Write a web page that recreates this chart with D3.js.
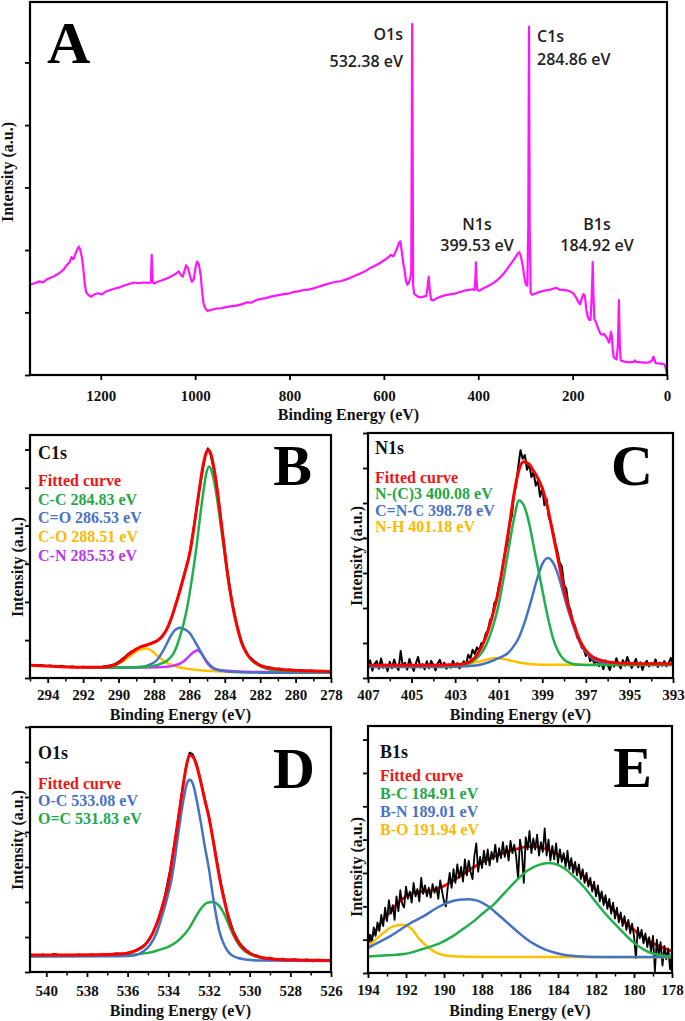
<!DOCTYPE html>
<html><head><meta charset="utf-8">
<script src="https://cdn.jsdelivr.net/npm/d3@7"></script>
<style>body{margin:0;background:#fff}svg{display:block}</style>
</head><body>
<script>
// ---------------- DATA ----------------
// Panel A survey spectrum [binding energy eV, intensity (0-100 of frame)]
const surveyData = [[1350,24.2],[1340,24.6],[1330,25.1],[1322,24.8],[1315,25.6],[1308,26.0],[1300,26.4],[1292,27.0],[1285,27.6],[1278,28.4],[1272,29.5],[1266,30.2],[1262,31.6],[1258,31.0],[1254,32.4],[1250,33.6],[1247,34.4],[1244,33.8],[1240,31.5],[1237,28.5],[1234,24.5],[1231,22.2],[1226,21.4],[1220,21.0],[1214,21.6],[1206,21.9],[1198,21.6],[1190,22.3],[1180,22.8],[1170,23.2],[1160,23.5],[1150,24.0],[1140,24.4],[1130,24.8],[1120,24.6],[1110,24.8],[1100,24.7],[1094,24.8],[1092,32.2],[1090,25.0],[1087,24.5],[1080,25.0],[1070,25.4],[1060,25.9],[1050,26.5],[1040,27.2],[1035,27.8],[1030,26.8],[1026,26.4],[1022,28.2],[1019,29.4],[1015,28.6],[1011,26.6],[1007,25.0],[1003,25.6],[999,29.0],[996,30.4],[992,29.6],[988,26.5],[985,22.0],[982,19.0],[978,17.8],[974,17.2],[965,17.5],[955,17.8],[945,17.9],[935,18.2],[925,18.4],[913,18.6],[900,19.0],[890,19.5],[880,19.4],[870,20.1],[860,20.4],[850,20.6],[840,21.0],[829,21.3],[815,21.6],[800,21.9],[790,22.3],[780,22.5],[770,22.8],[760,22.9],[753,23.1],[740,23.6],[728,24.1],[715,24.6],[700,25.0],[690,25.2],[678,25.7],[665,26.4],[650,27.2],[640,27.8],[630,28.6],[622,29.1],[610,29.9],[600,30.7],[592,31.4],[585,32.2],[580,31.8],[576,32.8],[572,34.0],[568,35.5],[565,35.8],[562,33.0],[559,30.0],[556,28.0],[553,25.0],[550,24.2],[547,24.8],[544,26.0],[542,28.0],[541,60],[540,94.1],[539,60],[538,24],[536,21.8],[533,21.5],[528,21.0],[522,20.8],[516,21.0],[510,21.2],[507,24.0],[505,26.4],[503,23.0],[500,20.2],[495,20.0],[488,20.6],[480,21.0],[470,21.4],[460,21.6],[450,21.8],[440,22.2],[430,22.6],[420,22.8],[412,23.0],[408,22.8],[406,26],[405,30.2],[404,26],[402,22.8],[398,22.6],[390,23.2],[380,23.8],[370,24.5],[360,25.4],[350,26.6],[340,28.2],[330,30.0],[322,31.4],[316,32.6],[313,32.9],[310,32.0],[306,29.5],[302,26.0],[299,24.2],[296,24.0],[294,40],[292.5,93.4],[291,40],[289,22.0],[286,21.5],[280,21.8],[270,22.3],[260,22.6],[250,22.8],[240,23.2],[235,23.4],[228,22.9],[220,22.8],[210,22.6],[204,22.3],[198,21.8],[192,20.6],[187,19.4],[184,19.0],[180,20.8],[177,21.7],[174,21.2],[171,17.5],[168,15.6],[165,14.8],[162,14.8],[160,20],[158,27],[157.5,30.3],[156,22],[154,15.0],[150,14.0],[146,12.5],[142,11.3],[138,10.8],[134,11.0],[130,10.4],[126,9.6],[123,8.7],[121,9.5],[119,11.6],[117,10.6],[115,7.0],[113,4.8],[110,4.4],[107,4.2],[104,8],[102,20.1],[100,8],[98,3.9],[90,3.6],[80,3.4],[70,3.5],[68,3.9],[66,3.5],[55,3.4],[45,3.3],[38,3.4],[32,3.8],[29,4.9],[27,4.4],[24,3.2],[18,3.1],[10,3.0],[5,2.8],[2,1.5],[0,0.5]];
const surveyPeakLabels = [["O1s","532.38 eV"],["C1s","284.86 eV"],["N1s","399.53 eV"],["B1s","184.92 eV"]];
const surveyTicks = [1200,1000,800,600,400,200,0];

// Panel B: C1s
const c1sRaw = [[295,5.6],[294.7,5.0],[294.4,5.4],[294.1,4.9],[293.8,5.1],[293.5,4.6],[293.2,5.0],[292.9,4.5],[292.6,4.7],[292.3,4.3],[292,4.6],[291.7,4.3],[291.4,4.5],[291.1,4.2],[290.8,4.8],[290.5,5.2],[290.2,5.7],[289.9,7.2],[289.6,8.9],[289.3,10.8],[289,11.5],[288.7,13.2],[288.4,13.4],[288.1,14.6],[287.8,15.4],[287.5,17.6],[287.2,21],[286.9,27],[286.6,34.5],[286.3,42.5],[286,50.5],[285.7,64.5],[285.4,79],[285.1,91.5],[284.95,94.5],[284.8,92],[284.5,81.5],[284.2,64.5],[283.9,46.5],[283.6,31.5],[283.3,21.5],[283,13.5],[282.7,9.2],[282.4,7.4],[282.1,5.6],[281.8,4.6],[281.5,4.4],[281.2,3.6],[280.9,3.9],[280.6,3.2],[280.3,3.5],[280,2.9],[279.7,3.3],[279.4,2.7],[279.1,3.1],[278.8,2.6],[278.5,3.0],[278.2,2.6],[278,2.9]];
const c1sFit = [[295,5.2],[293.5,4.7],[292,4.4],[291,4.4],[290.5,4.8],[290.1,5.8],[289.8,7.2],[289.54,9],[289.25,10.6],[288.97,12],[288.7,12.9],[288.41,13.6],[288.12,14.3],[287.84,15.2],[287.55,17],[287.28,20],[287.05,24],[286.8,29.5],[286.53,36],[286.25,43.5],[285.96,52],[285.7,64],[285.45,77],[285.25,86.5],[285.08,92],[284.95,93.8],[284.8,92.5],[284.6,86],[284.4,76],[284.2,64],[284.0,52],[283.8,40.5],[283.55,29.5],[283.3,21],[283.05,14.5],[282.75,10],[282.4,7],[282,5.2],[281.5,4.2],[281,3.6],[280,3.1],[279,2.9],[278,2.7]];
const c1sCC = [[292,4.3],[289,4.4],[288.3,4.8],[287.84,5.3],[287.5,6.2],[287.28,7],[286.9,10],[286.53,17],[286.15,28],[285.85,41],[285.58,55],[285.4,66],[285.2,77],[285.05,84],[284.87,87],[284.7,84],[284.45,74.6],[284.25,64],[284.08,55],[283.9,45.5],[283.7,36],[283.45,26],[283.14,17],[282.85,11.5],[282.57,8],[282.1,5.3],[281.63,3.8],[281,3.1],[280,2.8],[278,2.4]];
const c1sCdO = [[292,4.3],[289.5,4.3],[288.6,4.6],[288.2,5.6],[287.84,7.3],[287.55,10.3],[287.28,14],[287.05,17.3],[286.8,19.8],[286.53,20.7],[286.25,20],[285.96,18.3],[285.7,15.2],[285.4,11.4],[285.15,8.3],[284.92,5.9],[284.65,4.2],[284.45,3.4],[284,2.8],[283,2.4],[281,2.2],[278,2.2]];
const c1sCO = [[292,4.3],[291.5,4.3],[290.9,4.4],[290.48,4.6],[290.1,5.6],[289.8,6.7],[289.54,8],[289.25,9.6],[288.97,11],[288.7,11.8],[288.41,12.1],[288.12,11.2],[287.84,9.3],[287.55,7.6],[287.28,6.2],[286.9,5.1],[286.53,4.3],[286,3.7],[285.4,3.2],[284.5,2.8],[283.5,2.5],[281,2.3],[278,2.2]];
const c1sCN = [[292,4.3],[289,4.3],[287.8,4.4],[287.28,4.6],[286.9,5.1],[286.53,5.9],[286.3,7],[286.05,8.7],[285.8,10.4],[285.55,11.4],[285.33,10.2],[285.11,7.5],[284.9,5.4],[284.64,3.9],[284.3,3.3],[283.5,2.8],[282,2.5],[278,2.4]];
const c1sLegend = ["Fitted curve","C-C 284.83 eV","C=O 286.53 eV","C-O 288.51 eV","C-N 285.53 eV"];
const c1sTicks = [294,292,290,288,286,284,282,280,278];

// Panel C: N1s (raw intensities every 0.1 eV from 407 eV downwards)
const n1sRawStart = 407, n1sRawStep = 0.1;
const n1sRaw = [4.5,7.2,3.0,5.8,6.9,3.8,8.0,4.2,5.5,2.8,6.6,4.0,7.5,5.0,3.2,11.0,4.6,6.2,3.4,7.8,5.1,2.9,6.0,8.6,4.3,5.7,3.5,6.8,4.0,7.0,5.3,3.1,5.9,7.4,4.4,6.3,3.8,5.6,4.2,7.0,5.0,6.1,3.9,5.2,6.8,5.4,9.5,8.0,11.5,9.8,12.5,11.0,14.2,14.5,18.0,19.2,23.5,24.8,30.5,32.0,37.5,41.0,46.8,51.5,55.0,62.5,66.0,74.5,79.0,86.5,93.0,89.5,91.0,85.0,87.5,82.0,84.0,78.5,80.5,74.0,77.5,70.5,73.0,65.5,63.0,59.5,55.0,51.5,47.0,45.5,38.0,36.5,30.0,27.5,22.0,21.5,16.5,16.0,12.5,11.8,9.0,10.2,6.8,8.5,5.2,7.6,4.8,6.9,3.6,7.2,5.4,3.2,6.5,4.7,8.1,5.6,3.9,7.3,5.0,8.6,6.2,4.1,5.9,7.8,4.4,6.4,3.3,5.8,7.0,4.7,6.1,5.2,7.6,4.5,6.3,5.0,6.9,4.8,6.0,8.2,5.5];
const n1sFit = [[407,5.2],[404,5.2],[403,5.4],[402.5,6.0],[402,9.4],[401.6,16.4],[401.3,25],[401,36],[400.75,49],[400.5,63],[400.3,75],[400.07,85],[399.85,88.3],[399.6,87.2],[399.4,84.5],[399.2,81.5],[399,77.5],[398.75,69.4],[398.5,58.4],[398.25,47.4],[398,36.4],[397.75,27.6],[397.5,20.5],[397.25,14.8],[397,11.2],[396.7,8.7],[396.3,7.2],[395.8,6.3],[395,5.9],[393,5.8]];
const n1sNC3 = [[407,5.0],[404,5.0],[403,5.1],[402.5,5.6],[402.2,6.8],[401.9,9],[401.6,13],[401.3,20],[401,30],[400.75,42],[400.5,55],[400.3,65],[400.07,72.5],[399.85,70.5],[399.6,63],[399.4,54],[399.2,45],[399,36],[398.75,25],[398.5,16],[398.25,10.5],[398,7.5],[397.75,6.2],[397.5,5.6],[397,5.3],[393,5.3]];
const n1sCNC = [[407,4.5],[403.5,4.5],[402.5,4.8],[401.8,5.5],[401.3,7],[400.9,8.5],[400.6,10],[400.35,12.5],[400.1,16],[399.8,23],[399.5,32],[399.25,40],[399,46.5],[398.75,49],[398.5,47],[398.25,41.5],[398,33.5],[397.75,26],[397.5,19.5],[397.25,14],[397,10.5],[396.7,8],[396.3,6.5],[395.8,5.9],[393,5.6]];
const n1sNH = [[407,5.0],[404,5.0],[403,5.2],[402.5,5.6],[402,6.5],[401.6,7.4],[401.15,8.2],[400.8,7.8],[400.4,7],[400,6.2],[399.5,5.6],[399,5.4],[397,5.4],[393,5.4]];
const n1sLegend = ["Fitted curve","N-(C)3 400.08 eV","C=N-C 398.78 eV","N-H 401.18 eV"];
const n1sTicks = [407,405,403,401,399,397,395,393];

// Panel D: O1s
const o1sRaw = [[540.8,7.3],[540.5,6.5],[540.2,7.1],[539.9,6.6],[539.6,7.4],[539.3,6.7],[539,7.0],[538.7,6.4],[538.4,7.2],[538.1,6.6],[537.8,7.1],[537.5,6.8],[537.2,7.3],[536.9,6.9],[536.6,7.6],[536.3,7.4],[536,7.9],[535.7,8.4],[535.4,9.8],[535.1,11.5],[534.8,15.2],[534.5,21.2],[534.2,29.8],[533.9,42],[533.6,57.5],[533.3,75],[533.1,85],[532.95,89.5],[532.8,88.8],[532.6,84.8],[532.3,74],[532,63.5],[531.7,49.5],[531.4,35.8],[531.1,24.5],[530.8,16.5],[530.5,11.8],[530.2,9.2],[529.9,7.2],[529.6,6.6],[529.3,5.4],[529,5.8],[528.7,4.9],[528.4,5.4],[528.1,4.6],[527.8,5.2],[527.5,4.5],[527.2,5.1],[526.9,4.4],[526.6,5.0],[526.3,4.6],[526,5.1]];
const o1sFit = [[540.8,6.9],[539,6.9],[537.5,7.0],[536.5,7.3],[536,7.7],[535.6,8.7],[535.2,10.6],[534.9,13.8],[534.6,19],[534.3,26.5],[534,36],[533.75,49],[533.5,63],[533.3,74.5],[533.1,84.5],[532.95,88.5],[532.8,88],[532.6,84],[532.4,77.5],[532.2,70],[532,63],[531.8,54],[531.6,44],[531.4,35],[531.2,27.5],[531,21],[530.8,16],[530.6,12.8],[530.4,10.5],[530.1,8.2],[529.7,6.6],[529.2,5.6],[528.5,5.1],[527,4.8],[526,4.7]];
const o1sOC = [[540.8,6.4],[537,6.4],[536,6.5],[535.65,6.8],[535.2,8.6],[534.9,11],[534.6,15.5],[534.3,23],[534,32],[533.86,37],[533.7,45],[533.5,57],[533.3,68],[533.1,76.5],[532.95,78.5],[532.8,77],[532.6,70],[532.4,61],[532.2,51],[532,42],[531.85,33.5],[531.7,25.5],[531.5,17],[531.3,12],[531.1,8.8],[530.9,7],[530.6,5.8],[530.2,5.1],[529.5,4.7],[526,4.5]];
const o1sOdC = [[540.8,6.3],[538,6.5],[536,7],[535,7.8],[534.5,8.9],[534,10.3],[533.6,12.2],[533.3,14.5],[533,17.5],[532.7,21.8],[532.4,25.8],[532.1,28.2],[531.8,28.6],[531.5,27],[531.2,22.8],[530.95,17.8],[530.7,13.5],[530.45,10.2],[530.2,8.3],[529.8,6.6],[529.2,5.5],[528.5,5],[526,4.7]];
const o1sLegend = ["Fitted curve","O-C 533.08 eV","O=C 531.83 eV"];
const o1sTicks = [540,538,536,534,532,530,528,526];

// Panel E: B1s (raw intensities every 0.1 eV from 194 eV downwards)
const b1sRawStart = 194, b1sRawStep = 0.1;
const b1sRaw = [11.0,15.5,12.0,18.5,15.0,20.5,17.0,23.5,19.0,26.5,21.0,29.5,24.0,27.5,21.5,31.0,25.0,33.5,28.0,26.5,35.0,30.0,33.0,28.5,36.5,31.0,34.0,29.0,38.5,32.0,35.5,31.0,34.5,30.5,36.0,32.5,35.0,30.0,37.5,33.0,29.0,27.0,35.0,40.5,34.5,42.0,36.5,44.0,38.5,43.0,37.0,46.0,39.5,45.5,41.0,38.0,47.5,52.5,41.0,47.0,42.5,49.5,44.0,50.0,43.5,49.0,46.0,52.0,45.0,50.5,46.5,53.0,47.0,51.5,45.5,53.5,48.5,52.0,47.0,38.0,54.0,49.0,36.5,55.0,50.0,57.5,48.5,54.5,50.0,56.0,47.5,53.0,49.0,58.5,47.5,54.0,45.5,51.5,46.0,52.5,44.5,50.0,45.0,48.5,43.0,49.5,42.0,46.5,40.5,45.0,39.5,44.0,38.0,42.0,36.5,40.5,35.0,38.5,33.0,37.0,31.0,35.5,29.0,33.0,27.5,31.5,26.0,30.0,24.0,28.5,22.0,26.5,20.5,24.5,19.0,23.0,17.5,21.5,16.0,20.0,15.0,6.0,18.5,14.0,17.5,12.0,16.0,10.5,14.5,8.5,15.0,0.5,13.5,7.0,12.5,3.0,11.0,5.5,10.0,1.5,9.0];
const b1sFit = [[194,12.5],[193.6,17],[193.2,21.5],[192.8,25],[192.4,28.5],[192,31],[191.6,32.5],[191.2,33],[190.8,33.3],[190.4,34],[190,35.2],[189.6,37],[189.2,39],[188.8,41],[188.4,43],[188,44.8],[187.6,46.3],[187.2,47.6],[186.8,48.8],[186.4,49.8],[186,50.6],[185.6,51.2],[185.2,51.2],[184.8,50.6],[184.4,49.5],[184,48],[183.6,46],[183.2,43.5],[182.8,40.5],[182.4,37],[182,33.5],[181.6,30],[181.2,26.5],[180.8,23],[180.4,20],[180,17.5],[179.6,15],[179.2,13],[178.8,11.3],[178.4,10],[178,8.8]];
const b1sBC = [[194,6.7],[193,7.2],[192,7.8],[191.2,9.5],[190.6,11],[190.2,12.1],[189.6,14.6],[189,17.8],[188.45,20.9],[187.9,24.5],[187.4,27.6],[186.8,32.5],[186.16,37.7],[185.6,41.5],[185,43.8],[184.48,44.5],[184,43.8],[183.6,42],[183.16,39],[182.6,34.5],[182.1,29.6],[181.6,24.8],[181.05,20.2],[180.5,15.8],[179.99,12.1],[179.5,9.6],[179.1,8.1],[178.5,7.1],[178,6.7]];
const b1sBN = [[194,10.1],[193.5,12.2],[192.85,14.8],[192.3,17.5],[191.7,20.5],[191.09,22.9],[190.5,25.8],[189.86,28.3],[189.3,29.6],[188.71,29.9],[188.2,29.2],[187.7,27.1],[187.2,24.0],[186.7,20.6],[186.2,17.2],[185.7,14],[185.2,11.5],[184.7,9.6],[184.2,8.3],[183.7,7.4],[183,6.8],[182,6.5],[178,6.5]];
const b1sBO = [[194,10.8],[193.6,13.5],[193.2,16.2],[192.7,18.8],[192.15,19.5],[191.7,17.8],[191.27,13.5],[190.8,10.2],[190.39,8.1],[189.9,7.1],[189.33,6.7],[188,6.5],[178,6.4]];
const b1sLegend = ["Fitted curve","B-C 184.91 eV","B-N 189.01 eV","B-O 191.94 eV"];
const b1sTicks = [194,192,190,188,186,184,182,180,178];

const panelLetters = ["A","B","C","D","E"];
const panelTitles = ["C1s","N1s","O1s","B1s"];
const xTitle = "Binding Energy (eV)";
const yTitle = "Intensity (a.u.)";

// ---------------- DRAWING ----------------
const W = 685, H = 1021;
const SERIF = "'Liberation Serif','Times New Roman',serif";
const SANS = "'Open Sans','Noto Sans',sans-serif";
const COL = {red:"#ff0000", green:"#1fb04b", blue:"#4472c4", orange:"#ffc000", violet:"#cc33ff", black:"#000", magenta:"#ff14ff"};
const TXT = {red:"#f01414", green:"#1fa84a", blue:"#4a72c8", orange:"#ffb800", violet:"#b936f5"};

const svg = d3.select("body").append("svg").attr("width", W).attr("height", H);
svg.append("rect").attr("width", W).attr("height", H).attr("fill", "#fff");

const rawSeries = (start, step, vals) => vals.map((v, i) => [start - i * step, v]);

let clipId = 0;
function drawPanel(p) {
  const g = svg.append("g");
  const x = d3.scaleLinear().domain(p.xDomain).range([p.left, p.right]);
  const y = d3.scaleLinear().domain([0, 100]).range([p.bottom, p.top]);
  const id = "clip" + (clipId++);
  svg.append("clipPath").attr("id", id).append("rect")
    .attr("x", p.left).attr("y", p.top).attr("width", p.right - p.left).attr("height", p.bottom - p.top);
  const plot = g.append("g").attr("clip-path", `url(#${id})`);
  p.series.forEach(s => {
    const line = d3.line().x(d => x(d[0])).y(d => y(d[1])).curve(s.curve || d3.curveLinear);
    plot.append("path").datum(s.data).attr("d", line).attr("fill", "none")
      .attr("stroke", s.color).attr("stroke-width", s.width)
      .attr("stroke-linejoin", "round").attr("stroke-linecap", "round");
  });
  // x axis
  const xa = g.append("g").attr("transform", `translate(0,${p.bottom})`)
    .call(d3.axisBottom(x).tickValues(p.xTicks).tickSize(5).tickPadding(p.pad).tickFormat(d3.format("d")));
  xa.select(".domain").remove();
  xa.selectAll(".tick line").attr("stroke-width", 1.8);
  xa.selectAll("text").attr("font-family", SERIF).attr("font-weight", "bold").attr("font-size", 15).attr("fill", "#111");
  if (p.minor) {
    const xm = g.append("g").attr("transform", `translate(0,${p.bottom})`)
      .call(d3.axisBottom(x).tickValues(p.minor).tickSize(3.5).tickFormat(""));
    xm.select(".domain").remove();
    xm.selectAll(".tick line").attr("stroke-width", 1.5);
  }
  // y axis ticks
  const ya = g.append("g").attr("transform", `translate(${p.left},0)`)
    .call(d3.axisLeft(y).tickValues(p.yTicks).tickSize(5).tickFormat(""));
  ya.select(".domain").remove();
  ya.selectAll(".tick line").attr("stroke-width", 1.8);
  // frame
  g.append("rect").attr("x", p.left).attr("y", p.top).attr("width", p.right - p.left).attr("height", p.bottom - p.top)
    .attr("fill", "none").attr("stroke", "#000").attr("stroke-width", 2.2);
  // axis titles
  g.append("text").attr("x", (p.left + p.right) / 2).attr("y", p.xTitleY).attr("text-anchor", "middle")
    .attr("font-family", SERIF).attr("font-weight", "bold").attr("font-size", 16).attr("fill", "#111").text(xTitle);
  g.append("text").attr("transform", `translate(${p.yTitleX},${p.yTitleY}) rotate(-90)`).attr("text-anchor", "middle")
    .attr("font-family", SERIF).attr("font-weight", "bold").attr("font-size", 16).attr("fill", "#111").text(yTitle);
  // big letter
  g.append("text").attr("x", p.letter.x).attr("y", p.letter.y).attr("text-anchor", p.letter.anchor)
    .attr("font-family", SERIF).attr("font-weight", "bold").attr("font-size", p.letter.size).attr("fill", "#000").text(p.letter.t);
  if (p.title) {
    g.append("text").attr("x", p.title.x).attr("y", p.title.y).attr("font-family", SERIF).attr("font-weight", "bold")
      .attr("font-size", 18).attr("fill", "#111").text(p.title.t);
  }
  if (p.legend) {
    p.legend.items.forEach((t, i) => {
      g.append("text").attr("x", p.legend.x).attr("y", p.legend.y + i * p.legend.dy)
        .attr("font-family", SERIF).attr("font-weight", "bold").attr("font-size", 16)
        .attr("fill", p.legend.colors[i]).text(t);
    });
  }
  return {g, x, y};
}

const range = (a, b, s) => d3.range(a, b + s / 2, s);

// Panel A
const A = drawPanel({
  left: 30, right: 667, top: 2, bottom: 375, xDomain: [1350, 0],
  xTicks: surveyTicks, pad: 10.3, yTicks: [0, 16.8, 33.5, 50.3, 67.0, 83.8],
  xTitleY: 419.5, yTitleX: 13, yTitleY: 172,
  letter: {t: panelLetters[0], x: 47, y: 63, anchor: "start", size: 60},
  series: [{data: surveyData, color: COL.magenta, width: 2.2}]
});
const peakLab = [
  {x: 403, y1: 40, y2: 67, anchor: "end"},
  {x: 537, y1: 42, y2: 65, anchor: "start"},
  {x: 477, y1: 230, y2: 251, anchor: "middle"},
  {x: 597, y1: 230, y2: 251, anchor: "middle"}
];
surveyPeakLabels.forEach((lab, i) => {
  const s = peakLab[i];
  [lab[0], lab[1]].forEach((t, j) => {
    A.g.append("text").attr("x", s.x).attr("y", j ? s.y2 : s.y1).attr("text-anchor", s.anchor)
      .attr("font-family", SANS).attr("font-weight", 600).attr("font-size", 16).attr("fill", "#222").text(t);
  });
});

// Panel B
drawPanel({
  left: 30, right: 331, top: 435, bottom: 678, xDomain: [295, 278],
  xTicks: c1sTicks, minor: range(279, 295, 2), pad: 6.3, yTicks: [0, 15.6, 31.3, 47, 62.7, 78.3, 94],
  xTitleY: 719.5, yTitleX: 23, yTitleY: 567,
  letter: {t: panelLetters[1], x: 312, y: 485, anchor: "end", size: 58},
  title: {t: panelTitles[0], x: 38, y: 459},
  legend: {items: c1sLegend, x: 38, y: 486, dy: 18.7, colors: [TXT.red, TXT.green, TXT.blue, TXT.orange, TXT.violet]},
  series: [
    {data: c1sRaw, color: COL.black, width: 2},
    {data: c1sCO, color: COL.orange, width: 2.5, curve: d3.curveMonotoneX},
    {data: c1sCN, color: COL.violet, width: 2.5, curve: d3.curveMonotoneX},
    {data: c1sCdO, color: COL.blue, width: 2.5, curve: d3.curveMonotoneX},
    {data: c1sCC, color: COL.green, width: 2.5, curve: d3.curveMonotoneX},
    {data: c1sFit, color: COL.red, width: 3, curve: d3.curveMonotoneX}
  ]
});

// Panel C
drawPanel({
  left: 368, right: 673, top: 433, bottom: 678, xDomain: [407, 393],
  xTicks: n1sTicks, minor: range(394, 406, 2), pad: 6.3, yTicks: d3.range(0, 8).map(i => i * 100 / 7),
  xTitleY: 719.5, yTitleX: 362, yTitleY: 556,
  letter: {t: panelLetters[2], x: 653, y: 485, anchor: "end", size: 58},
  title: {t: panelTitles[1], x: 375, y: 454},
  legend: {items: n1sLegend, x: 375, y: 483, dy: 16.4, colors: [TXT.red, TXT.green, TXT.blue, TXT.orange]},
  series: [
    {data: rawSeries(n1sRawStart, n1sRawStep, n1sRaw), color: COL.black, width: 2},
    {data: n1sNH, color: COL.orange, width: 2.5, curve: d3.curveMonotoneX},
    {data: n1sCNC, color: COL.blue, width: 2.5, curve: d3.curveMonotoneX},
    {data: n1sNC3, color: COL.green, width: 2.5, curve: d3.curveMonotoneX},
    {data: n1sFit, color: COL.red, width: 3, curve: d3.curveMonotoneX}
  ]
});

// Panel D
drawPanel({
  left: 30, right: 331, top: 727, bottom: 972, xDomain: [540.8, 526],
  xTicks: o1sTicks, minor: range(527, 539, 2), pad: 8.3, yTicks: d3.range(0, 8).map(i => i * 100 / 7),
  xTitleY: 1016, yTitleX: 23, yTitleY: 840,
  letter: {t: panelLetters[3], x: 315, y: 788, anchor: "end", size: 58},
  title: {t: panelTitles[2], x: 38, y: 759},
  legend: {items: o1sLegend, x: 38, y: 788.5, dy: 17.5, colors: [TXT.red, TXT.blue, TXT.green]},
  series: [
    {data: o1sRaw, color: COL.black, width: 2},
    {data: o1sOdC, color: COL.green, width: 2.5, curve: d3.curveMonotoneX},
    {data: o1sOC, color: COL.blue, width: 2.5, curve: d3.curveMonotoneX},
    {data: o1sFit, color: COL.red, width: 3, curve: d3.curveMonotoneX}
  ]
});

// Panel E
drawPanel({
  left: 368, right: 672, top: 726, bottom: 973, xDomain: [194, 178],
  xTicks: b1sTicks, minor: range(179, 193, 2), pad: 6.3, yTicks: d3.range(0, 8).map(i => i * 13.5),
  xTitleY: 1016, yTitleX: 362, yTitleY: 867,
  letter: {t: panelLetters[4], x: 652, y: 787, anchor: "end", size: 58},
  title: {t: panelTitles[3], x: 380, y: 758},
  legend: {items: b1sLegend, x: 380, y: 780.5, dy: 18, colors: [TXT.red, TXT.green, TXT.blue, TXT.orange]},
  series: [
    {data: b1sFit, color: COL.red, width: 2.8, curve: d3.curveMonotoneX},
    {data: rawSeries(b1sRawStart, b1sRawStep, b1sRaw), color: COL.black, width: 1.8},
    {data: b1sBO, color: COL.orange, width: 2.5, curve: d3.curveMonotoneX},
    {data: b1sBN, color: COL.blue, width: 2.5, curve: d3.curveMonotoneX},
    {data: b1sBC, color: COL.green, width: 2.5, curve: d3.curveMonotoneX}
  ]
});
</script>
</body></html>
